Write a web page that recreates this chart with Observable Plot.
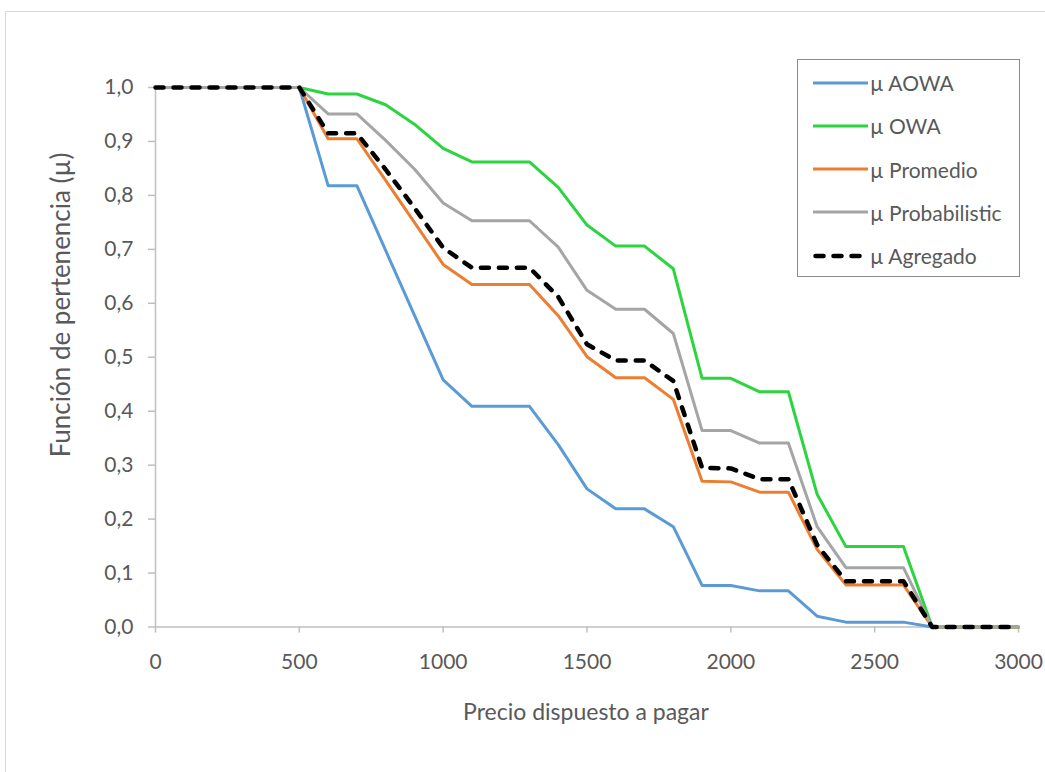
<!DOCTYPE html>
<html>
<head>
<meta charset="utf-8">
<script src="https://cdn.jsdelivr.net/npm/d3@7"></script>
<script src="https://cdn.jsdelivr.net/npm/@observablehq/plot@0.6"></script>
<style>
  html, body { margin: 0; padding: 0; background: #fff; }
  #wrap { position: relative; width: 1045px; height: 772px; overflow: hidden; font-family: Lato, "Open Sans", sans-serif; color: #595959; }
  #border { position: absolute; left: 5px; top: 11px; width: 1100px; height: 900px; border: 1.5px solid #D9D9D9; box-sizing: border-box; }
  #chart { position: absolute; left: 0; top: 0; }
  #ylabel { position: absolute; left: 60px; top: 305px; transform: translate(-50%, -50%) rotate(-90deg); white-space: nowrap; font-size: 26px; }
  #xlabel { position: absolute; left: 586px; top: 711px; transform: translate(-50%, -50%); white-space: nowrap; font-size: 23px; }
  #legend { position: absolute; left: 797px; top: 59px; width: 223px; height: 218px; border: 1.5px solid #8C8C8C; box-sizing: border-box; background: #fff; }
  .item { position: absolute; left: 15px; height: 30px; display: flex; align-items: center; font-size: 21px; color: #595959; white-space: nowrap; }
  .item svg { margin-right: 2px; }
</style>
</head>
<body>
<div id="wrap">
  <div id="border"></div>
  <div id="chart"></div>
  <div id="ylabel">Función de pertenencia (µ)</div>
  <div id="xlabel">Precio dispuesto a pagar</div>
  <div id="legend"></div>
</div>
<script>
const precio = [0,100,200,300,400,500,600,700,800,900,1000,1100,1200,1300,1400,1500,1600,1700,1800,1900,2000,2100,2200,2300,2400,2500,2600,2700,2800,2900,3000];

const muAOWA = [1,1,1,1,1,1,0.818,0.818,0.698,0.578,0.458,0.409,0.409,0.409,0.338,0.256,0.219,0.219,0.186,0.077,0.077,0.067,0.067,0.020,0.009,0.009,0.009,0,0,0,0];
const muOWA = [1,1,1,1,1,1,0.988,0.988,0.968,0.932,0.887,0.862,0.862,0.862,0.815,0.745,0.706,0.706,0.664,0.461,0.461,0.436,0.436,0.246,0.149,0.149,0.149,0,0,0,0];
const muPromedio = [1,1,1,1,1,1,0.905,0.905,0.828,0.750,0.672,0.635,0.635,0.635,0.577,0.501,0.462,0.462,0.422,0.270,0.269,0.250,0.250,0.144,0.078,0.078,0.078,0,0,0,0];
const muProbabilistic = [1,1,1,1,1,1,0.951,0.951,0.902,0.849,0.786,0.753,0.753,0.753,0.704,0.624,0.589,0.589,0.544,0.364,0.364,0.341,0.341,0.186,0.110,0.110,0.110,0,0,0,0];
const muAgregado = [1,1,1,1,1,1,0.915,0.915,0.848,0.777,0.703,0.666,0.666,0.666,0.612,0.524,0.494,0.494,0.456,0.295,0.294,0.274,0.274,0.152,0.085,0.085,0.085,0,0,0,0];

const seriesNames = ["µ AOWA", "µ OWA", "µ Promedio", "µ Probabilistic", "µ Agregado"];
const seriesValues = [muAOWA, muOWA, muPromedio, muProbabilistic, muAgregado];
const seriesColors = ["#5B9BD5", "#2CD43F", "#ED7D31", "#A5A5A5", "#000000"];

const xTicks = [0,500,1000,1500,2000,2500,3000];
const yTicks = [0,0.1,0.2,0.3,0.4,0.5,0.6,0.7,0.8,0.9,1.0];

const styleFor = (i) => i === 4
  ? {strokeWidth: 4.5, strokeDasharray: "8,10", strokeLinecap: "round"}
  : {strokeWidth: 3, strokeLinecap: "round"};

const lineMarks = seriesValues.map((vals, i) => {
  const data = precio.map((p, j) => ({p, v: vals[j]}));
  return Plot.line(data, {x: "p", y: "v", stroke: seriesColors[i], strokeLinejoin: "round", ...styleFor(i)});
});

const chart = Plot.plot({
  width: 1045,
  height: 772,
  marginLeft: 155,
  marginRight: 27,
  marginTop: 87,
  marginBottom: 145.5,
  style: {fontFamily: "Lato, 'Open Sans', sans-serif", fontSize: "21px", color: "#595959", background: "transparent"},
  x: {domain: [0, 3000]},
  y: {domain: [0, 1]},
  marks: [
    Plot.ruleX([0], {stroke: "#BFBFBF", strokeWidth: 1.5}),
    Plot.ruleY([0], {stroke: "#BFBFBF", strokeWidth: 1.5}),
    Plot.axisX({ticks: xTicks, tickSize: 6, tickPadding: 21, stroke: "#BFBFBF", strokeWidth: 1.5, fill: "#595959", tickFormat: d => String(d), label: null}),
    Plot.axisY({ticks: yTicks, tickSize: 7, tickPadding: 15, stroke: "#BFBFBF", strokeWidth: 1.5, fill: "#595959", tickFormat: d => d.toFixed(1).replace(".", ","), label: null}),
    ...lineMarks
  ]
});
document.getElementById("chart").appendChild(chart);

const legend = document.getElementById("legend");
const rowCenters = [22.5, 65.8, 109.1, 152.4, 195.7];
seriesNames.forEach((name, i) => {
  const item = document.createElement("div");
  item.className = "item";
  item.style.top = (rowCenters[i] - 15) + "px";
  const dash = i === 4 ? 'stroke-dasharray="8,10" stroke-linecap="round"' : 'stroke-linecap="butt"';
  const w = i === 4 ? 4.5 : 3;
  const x1 = i === 4 ? 2.5 : 0;
  item.innerHTML = `<svg width="55" height="10"><line x1="${x1}" y1="5" x2="${55 - x1}" y2="5" stroke="${seriesColors[i]}" stroke-width="${w}" ${dash}/></svg><span>${name}</span>`;
  legend.appendChild(item);
});
</script>
</body>
</html>
